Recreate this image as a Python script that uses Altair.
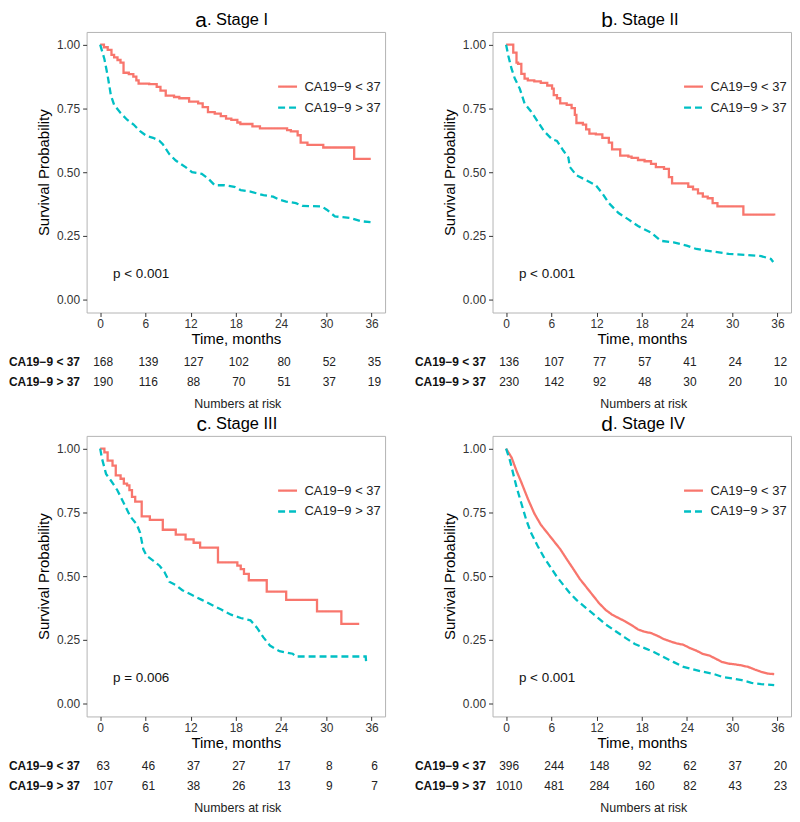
import altair as alt
import pandas as pd

LT = "CA19−9 < 37"
GT = "CA19−9 > 37"
RED = "#F8766D"
CYAN = "#00BFC4"
FONT = "Liberation Sans"
TICKS = [0, 6, 12, 18, 24, 30, 36]
W, H = 300, 282

# ---- Panel a: Stage I ----
a_lt_t = [0, 0.5, 1.0, 1.5, 1.85, 2.3, 2.7, 3.1, 3.8, 4.4, 4.8, 5.1, 6.5, 7.5, 8.0, 8.7, 9.8, 10.5, 11.8, 13.0,
          13.6, 14.3, 15.2, 16.0, 16.7, 17.4, 18.2, 18.6, 20.2, 21.2, 24.8, 25.3, 26.2, 26.6, 27.5, 29.6, 33.7, 35.9]
a_lt_s = [1.0, 0.99, 0.98, 0.96, 0.95, 0.94, 0.93, 0.89, 0.885, 0.875, 0.86, 0.847, 0.845, 0.835, 0.82, 0.80, 0.795,
          0.79, 0.777, 0.77, 0.755, 0.736, 0.73, 0.72, 0.71, 0.705, 0.695, 0.689, 0.68, 0.672, 0.665, 0.66, 0.645,
          0.616, 0.607, 0.597, 0.552, 0.552]
a_gt_t = [0, 0.56, 0.99, 1.42, 1.85, 2.71, 3.57, 4.44, 5.3, 6.16, 7.02, 7.88, 8.31, 9.17, 10.03, 11.33, 12.19, 13.48,
          14.34, 15.2, 16.5, 17.8, 18.65, 19.94, 21.66, 22.95, 23.8, 24.68, 25.97, 26.83, 29.4, 30.06, 31.14, 33.3,
          34.58, 35.87]
a_gt_s = [1.0, 0.944, 0.879, 0.802, 0.764, 0.732, 0.706, 0.687, 0.661, 0.642, 0.635, 0.623, 0.61, 0.571, 0.546, 0.52,
          0.50, 0.494, 0.475, 0.449, 0.449, 0.443, 0.43, 0.424, 0.41, 0.404, 0.392, 0.385, 0.379, 0.368, 0.366, 0.353,
          0.327, 0.32, 0.308, 0.304]
a_risk_lt = [168, 139, 127, 102, 80, 52, 35]
a_risk_gt = [190, 116, 88, 70, 51, 37, 19]

# ---- Panel b: Stage II ----
b_lt_t = [0, 0.95, 1.38, 1.59, 2.02, 2.45, 2.88, 3.74, 4.6, 5.46, 6.1, 6.32, 6.75, 7.18, 8.04, 8.69, 9.12, 9.33,
          10.19, 10.62, 11.05, 11.91, 12.77, 13.63, 14.06, 15.14, 16.22, 16.65, 17.5, 18.37, 19.23, 19.87, 20.95,
          21.6, 22.02, 24.17, 24.8, 25.46, 26.1, 26.75, 27.4, 28.04, 31.48, 35.57]
b_lt_s = [1.0, 0.969, 0.93, 0.925, 0.886, 0.867, 0.86, 0.856, 0.85, 0.84, 0.828, 0.802, 0.79, 0.77, 0.764, 0.751,
          0.725, 0.693, 0.687, 0.668, 0.651, 0.648, 0.635, 0.616, 0.59, 0.565, 0.561, 0.556, 0.548, 0.543, 0.533,
          0.52, 0.513, 0.481, 0.456, 0.443, 0.433, 0.417, 0.404, 0.398, 0.379, 0.366, 0.334, 0.33]
b_gt_t = [0, 0.3, 0.73, 1.16, 1.81, 2.45, 3.31, 4.17, 5.03, 6.1, 6.75, 7.61, 8.26, 8.47, 9.33, 10.62, 11.91, 12.77,
          13.63, 14.92, 16.22, 17.5, 19.23, 20.52, 22.24, 23.96, 25.25, 27.4, 29.55, 31.7, 33.85, 35.14, 35.44]
b_gt_s = [1.0, 0.956, 0.905, 0.867, 0.828, 0.77, 0.738, 0.70, 0.661, 0.629, 0.623, 0.584, 0.558, 0.52, 0.488, 0.469,
          0.449, 0.417, 0.379, 0.34, 0.315, 0.289, 0.263, 0.231, 0.225, 0.212, 0.199, 0.189, 0.18, 0.176, 0.171,
          0.16, 0.148]
b_risk_lt = [136, 107, 77, 57, 41, 24, 12]
b_risk_gt = [230, 142, 92, 48, 30, 20, 10]

# ---- Panel c: Stage III ----
c_lt_t = [0, 0.56, 0.99, 1.64, 2.07, 2.71, 3.14, 3.57, 3.88, 4.22, 4.65, 5.51, 6.59, 8.31, 10.03, 11.33, 12.4, 13.26,
          15.63, 18.2, 18.65, 19.08, 19.72, 22.1, 24.68, 28.77, 32.0, 34.37]
c_lt_s = [1.0, 0.985, 0.953, 0.933, 0.895, 0.882, 0.863, 0.856, 0.837, 0.811, 0.792, 0.734, 0.721, 0.682, 0.663,
          0.644, 0.631, 0.612, 0.554, 0.541, 0.528, 0.509, 0.484, 0.439, 0.407, 0.362, 0.313, 0.313]
c_gt_t = [0, 0.26, 0.78, 1.42, 2.28, 3.14, 4.0, 4.87, 5.3, 5.73, 6.16, 7.02, 7.88, 8.53, 9.17, 10.03, 10.9, 12.19,
          13.48, 14.77, 16.06, 17.36, 18.65, 19.94, 20.8, 21.66, 22.52, 23.8, 25.54, 25.97, 35.23, 35.31]
c_gt_s = [1.0, 0.959, 0.901, 0.875, 0.837, 0.786, 0.734, 0.702, 0.67, 0.605, 0.58, 0.561, 0.541, 0.516, 0.478,
          0.465, 0.445, 0.426, 0.407, 0.388, 0.369, 0.349, 0.336, 0.327, 0.298, 0.26, 0.228, 0.206, 0.196, 0.185,
          0.185, 0.154]
c_risk_lt = [63, 46, 37, 27, 17, 8, 6]
c_risk_gt = [107, 61, 38, 26, 13, 9, 7]

# ---- Panel d: Stage IV ----
d_lt_t = [0, 0.73, 1.38, 2.02, 2.88, 3.74, 4.6, 5.46, 6.32, 7.18, 8.04, 8.9, 9.76, 10.62, 11.48, 12.34, 13.2, 14.06,
          14.92, 15.78, 16.65, 17.51, 18.37, 19.23, 20.09, 20.95, 21.81, 22.67, 23.53, 24.39, 25.25, 26.11, 26.97,
          27.83, 28.69, 29.55, 30.41, 31.27, 32.13, 32.99, 33.85, 34.71, 35.57]
d_lt_s = [1.0, 0.965, 0.913, 0.868, 0.804, 0.746, 0.702, 0.67, 0.638, 0.606, 0.567, 0.529, 0.49, 0.458, 0.426,
          0.394, 0.368, 0.349, 0.336, 0.323, 0.308, 0.291, 0.282, 0.277, 0.266, 0.253, 0.244, 0.236, 0.231, 0.218,
          0.208, 0.195, 0.189, 0.176, 0.163, 0.157, 0.154, 0.15, 0.144, 0.134, 0.125, 0.118, 0.116]
d_gt_t = [0, 0.52, 0.95, 1.38, 2.02, 2.67, 3.31, 4.17, 5.03, 5.89, 6.75, 7.61, 8.47, 9.33, 10.62, 11.91, 13.2, 14.49,
          15.78, 17.08, 18.37, 19.66, 20.95, 22.24, 23.53, 24.82, 26.11, 27.4, 28.69, 29.98, 31.27, 32.56, 33.85, 35.57]
d_gt_s = [1.0, 0.953, 0.901, 0.85, 0.786, 0.721, 0.67, 0.619, 0.574, 0.535, 0.497, 0.465, 0.433, 0.407, 0.375, 0.343,
          0.311, 0.285, 0.259, 0.234, 0.218, 0.202, 0.182, 0.163, 0.144, 0.135, 0.125, 0.118, 0.105, 0.099, 0.092,
          0.082, 0.077, 0.073]
d_risk_lt = [396, 244, 148, 92, 62, 37, 20]
d_risk_gt = [1010, 481, 284, 160, 82, 43, 23]

X = alt.X("time:Q", scale=alt.Scale(domain=[-1.8, 37.8], nice=False, zero=False),
          axis=alt.Axis(values=TICKS, title="Time, months", labelPadding=2, titlePadding=2))
Y = alt.Y("surv:Q", scale=alt.Scale(domain=[-0.05, 1.05], nice=False, zero=False),
          axis=alt.Axis(values=[0, 0.25, 0.5, 0.75, 1.0], format=".2f", title="Survival Probability",
                        labelPadding=3, titlePadding=5))


def panel(letter, stage, lt_t, lt_s, gt_t, gt_s, lt_interp, gt_interp, risk_lt, risk_gt, ptext):
    df_lt = pd.DataFrame({"time": lt_t, "surv": lt_s, "group": LT})
    df_gt = pd.DataFrame({"time": gt_t, "surv": gt_s, "group": GT})
    leg = alt.Legend(orient="none", legendX=191, legendY=44, title=None, direction="vertical",
                     symbolType="stroke", symbolSize=361, symbolStrokeWidth=2.3, labelFontSize=13,
                     labelFont=FONT, labelColor="#222", rowPadding=3, labelOffset=6, padding=0)
    color = alt.Color("group:N", scale=alt.Scale(domain=[LT, GT], range=[RED, CYAN]), legend=leg)
    dash = alt.StrokeDash("group:N", scale=alt.Scale(domain=[LT, GT], range=[[1, 0], [7, 4]]), legend=leg)
    l1 = alt.Chart(df_lt).mark_line(interpolate=lt_interp, strokeWidth=2.3).encode(
        x=X, y=Y, color=color, strokeDash=dash)
    l2 = alt.Chart(df_gt).mark_line(interpolate=gt_interp, strokeWidth=2.3).encode(
        x=X, y=Y, color=color, strokeDash=dash)
    pdf = pd.DataFrame({"time": [1.7], "surv": [0.1], "label": [ptext]})
    ptxt = alt.Chart(pdf).mark_text(align="left", baseline="middle", fontSize=13.5, font=FONT,
                                    color="#111").encode(x=X, y=Y, text="label:N")
    layers = [l1, l2, ptxt]
    for lab, counts, yy in [(LT, risk_lt, H + 50), (GT, risk_gt, H + 70)]:
        rdf = pd.DataFrame({"time": TICKS, "n": counts})
        layers.append(alt.Chart(rdf).mark_text(fontSize=12, font=FONT, color="#222", baseline="middle",
                                               dx=3).encode(x=X, y=alt.value(yy), text="n:Q"))
        ldf = pd.DataFrame({"label": [lab]})
        layers.append(alt.Chart(ldf).mark_text(fontSize=12, font=FONT, fontWeight="bold", color="#111",
                                               align="left", baseline="middle").encode(
            x=alt.value(-78), y=alt.value(yy), text="label:N"))
    ndf = pd.DataFrame({"label": ["Numbers at risk"]})
    layers.append(alt.Chart(ndf).mark_text(fontSize=12.5, font=FONT, color="#222", baseline="middle").encode(
        x=alt.value(W / 2 + 2), y=alt.value(H + 92), text="label:N"))
    tdf = pd.DataFrame({"letter": [letter], "stage": [". " + stage]})
    layers.append(alt.Chart(tdf).mark_text(fontSize=21, font=FONT, color="#000", align="right",
                                           baseline="top").encode(
        x=alt.value(W / 2 - 29), y=alt.value(-21.5), text="letter:N"))
    layers.append(alt.Chart(tdf).mark_text(fontSize=16.5, font=FONT, color="#000", align="left",
                                           baseline="top").encode(
        x=alt.value(W / 2 - 29), y=alt.value(-20), text="stage:N"))
    return alt.layer(*layers).properties(width=W, height=H)


pa = panel("a", "Stage I", a_lt_t, a_lt_s, a_gt_t, a_gt_s, "step-after", "linear", a_risk_lt, a_risk_gt, "p < 0.001")
pb = panel("b", "Stage II", b_lt_t, b_lt_s, b_gt_t, b_gt_s, "step-after", "linear", b_risk_lt, b_risk_gt, "p < 0.001")
pc = panel("c", "Stage III", c_lt_t, c_lt_s, c_gt_t, c_gt_s, "step-after", "linear", c_risk_lt, c_risk_gt, "p = 0.006")
pd_ = panel("d", "Stage IV", d_lt_t, d_lt_s, d_gt_t, d_gt_s, "linear", "linear", d_risk_lt, d_risk_gt, "p < 0.001")

res = dict(color="independent", strokeDash="independent")
row1 = alt.hconcat(pa, pb, spacing=28).resolve_scale(**res)
row2 = alt.hconcat(pc, pd_, spacing=28).resolve_scale(**res)
chart = alt.vconcat(row1, row2, spacing=3).resolve_scale(**res).properties(padding=0).configure_view(
    stroke="#b3b3b3", strokeWidth=1
).configure_axis(
    grid=False, domain=False, tickColor="#333", tickSize=4, labelColor="#333", labelFont=FONT,
    labelFontSize=12, titleFont=FONT, titleFontSize=15, titleFontWeight="normal", titleColor="#000"
)

chart.save("out.html", embed_options={"renderer": "svg", "actions": False})
